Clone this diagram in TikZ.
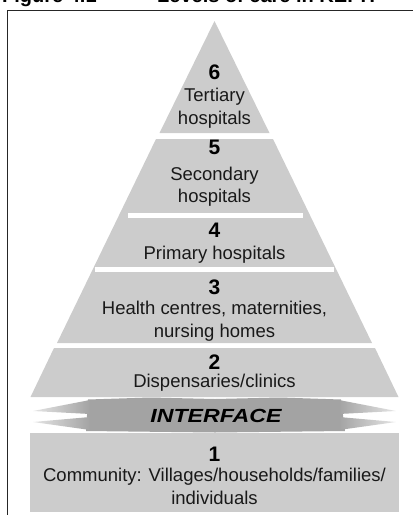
\documentclass[tikz,border=0pt]{standalone}
\usepackage{fontspec}
\setmainfont{Liberation Sans}
\begin{document}
\begin{tikzpicture}[x=1pt,y=-1pt,
  tierfill/.style={fill=tiergray, draw=none},
  numtxt/.style={font=\fontsize{21}{22}\selectfont\bfseries, text=black, inner sep=0pt},
  lbltxt/.style={font=\fontsize{18.5}{22.5}\selectfont, text=black!90, align=center, inner sep=0pt},
  sepline/.style={draw=white, line width=5pt},
  frameline/.style={draw=black!85, line width=1.4pt}]
\definecolor{tiergray}{gray}{0.8}
\definecolor{ifgray}{gray}{0.64}
\useasboundingbox (0,0) rectangle (413,515);
% title (cut off at top edge)
\node[anchor=base west, inner sep=0pt, font=\fontsize{20}{22}\selectfont\bfseries] (figno) at (2,2.5) {Figure 4.1};
\node[anchor=base west, inner sep=0pt, font=\fontsize{20}{22}\selectfont\bfseries] (ftitle) at (157,2.5) {Levels of care in KEPH};
% frame
\draw[frameline] (7.5,515) -- (7.5,10.3) -- (413,10.3);
% tier 6 triangle
\fill[tierfill] (214.5,21) -- (269.5,133) -- (159.5,133) -- cycle;
% tiers 5-3 trapezoid
\fill[tierfill] (156,139) -- (273,139) -- (372,343) -- (57,343) -- cycle;
\draw[sepline, line width=5.5pt] (128,215.5) -- (303,215.5);
\draw[sepline, line width=4.5pt] (95,269.5) -- (334,269.5);
% tier 2 trapezoid
\fill[tierfill] (54,348) -- (375,348) -- (398.5,397) -- (30.5,397) -- cycle;
% interface
\fill[ifgray] (88,399.5) -- (150,397.5) -- (215,399) -- (280,397.5) -- (341,399.5) -- (345,431) -- (215,432.5) -- (86,431) -- cycle;
\shade[left color=gray!20, right color=ifgray] (33,411) -- (90,400) -- (90,414) -- cycle;
\shade[left color=gray!20, right color=ifgray] (33,422) -- (90,417) -- (90,430) -- cycle;
\shade[right color=gray!20, left color=ifgray] (396,411) -- (339,400) -- (339,414) -- cycle;
\shade[right color=gray!20, left color=ifgray] (396,422) -- (339,417) -- (339,430) -- cycle;
% tier 1 rectangle
\fill[tierfill] (30,432.5) rectangle (398.5,512);
% texts
\node[numtxt] (n6) at (214.5,72) {6};
\node[lbltxt] (t6) at (214.5,108) {Tertiary\\hospitals};
\node[numtxt] (n5) at (214.5,147) {5};
\node[lbltxt] (t5) at (214.5,186.5) {Secondary\\hospitals};
\node[numtxt] (n4) at (214.5,230) {4};
\node[lbltxt] (t4) at (214.5,255) {Primary hospitals};
\node[numtxt] (n3) at (214.5,287) {3};
\node[lbltxt] (t3) at (214.5,321) {Health centres, maternities,\\nursing homes};
\node[numtxt] (n2) at (214.5,362) {2};
\node[lbltxt] (t2) at (214.5,383) {Dispensaries/clinics};
\node[inner sep=0pt, xscale=1.22, font=\fontsize{19}{21}\selectfont\bfseries\itshape] (iface) at (216,416) {INTERFACE};
\node[numtxt] (n1) at (214.5,454) {1};
\node[lbltxt] (t1) at (214.5,486.5) {Community: Villages/households/families/\\individuals};
\end{tikzpicture}
\end{document}
